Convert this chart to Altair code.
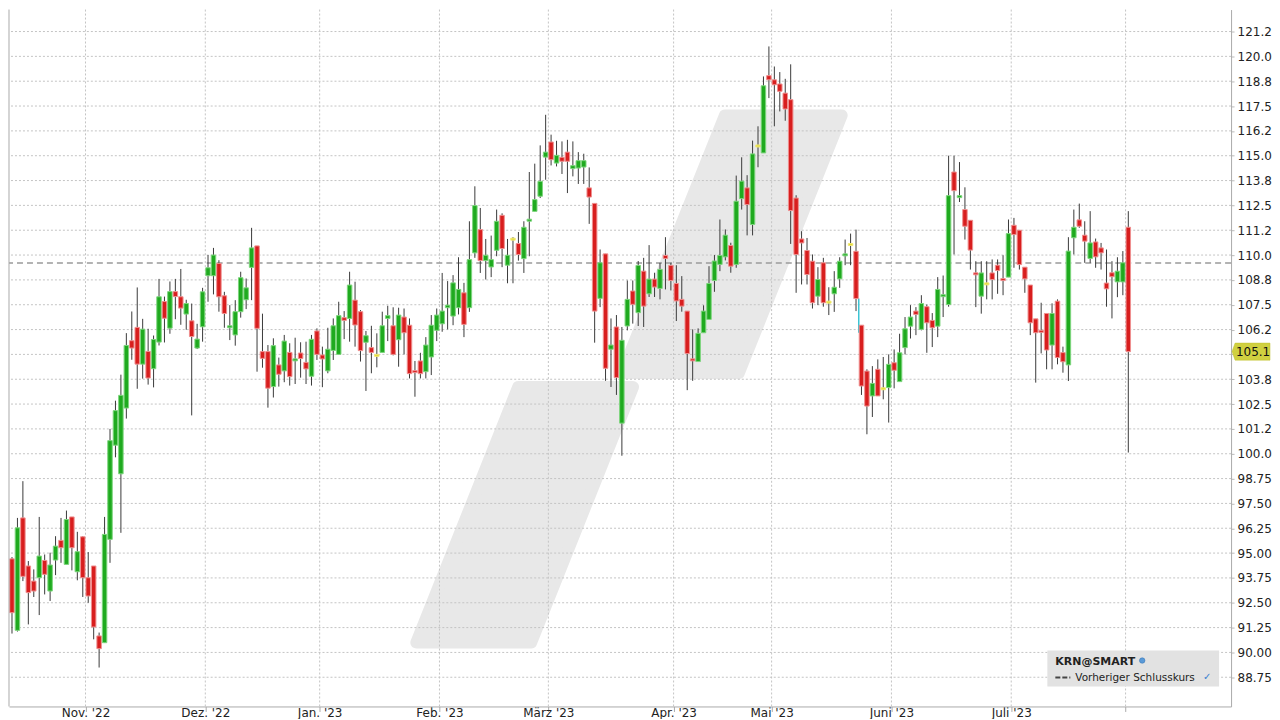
import json
import altair as alt
import pandas as pd

# ---------------- data ----------------
opens = [94.71, 91.11, 96.77, 94.35, 93.59, 93.76, 94.63, 93.09, 94.65, 95.64,
         94.43, 96.82, 94.06, 95.82, 93.76, 94.35, 90.83, 90.49, 95.69, 100.43,
         98.99, 102.30, 105.69, 106.36, 104.51, 105.15, 104.28, 105.62, 107.66, 106.32,
         108.16, 107.90, 107.03, 106.69, 105.32, 106.39, 108.96, 108.96, 109.58, 107.95,
         106.36, 105.98, 107.15, 107.75, 109.38, 110.46, 105.14, 105.14, 103.38, 104.47,
         104.17, 105.10, 104.70, 105.07, 104.60, 103.90, 106.18, 104.97, 104.17, 105.20,
         105.00, 106.85, 106.81, 107.73, 107.15, 105.61, 105.34, 104.95, 105.10, 106.81,
         106.44, 105.74, 106.88, 106.47, 104.16, 104.67, 104.13, 104.87, 106.21, 106.54,
         107.35, 106.93, 107.35, 108.10, 107.35, 110.11, 111.28, 109.72, 109.40, 110.24,
         112.00, 109.49, 110.80, 110.58, 109.82, 111.73, 112.20, 112.96, 114.93, 115.69,
         114.63, 114.92, 115.18, 114.35, 114.38, 114.43, 113.38, 112.60, 107.82, 110.06,
         105.26, 106.38, 101.54, 106.43, 108.19, 107.10, 109.19, 108.05, 108.79, 108.32,
         109.98, 109.48, 108.57, 107.77, 107.18, 104.75, 104.64, 106.09, 106.76, 108.72,
         109.53, 109.91, 110.48, 109.53, 112.84, 113.38, 111.54, 115.49, 115.14, 119.03,
         118.82, 118.61, 118.15, 117.82, 112.87, 110.81, 110.23, 109.69, 107.93, 109.61,
         107.63, 108.05, 108.80, 109.99, 110.53, 110.19, 106.47, 104.16, 102.91, 104.25,
         103.27, 103.33, 104.58, 103.63, 105.34, 106.42, 107.18, 106.26, 107.40, 106.71,
         106.42, 107.93, 107.51, 114.18, 112.92, 112.29, 111.75, 109.09, 107.93, 108.55,
         109.10, 109.49, 108.79, 108.89, 111.50, 111.25, 109.39, 108.49, 106.79, 106.21,
         107.06, 105.47, 107.68, 105.09, 104.47, 110.87, 111.77, 111.00, 109.83, 110.66,
         110.36, 108.59, 109.11, 108.65, 108.65, 111.40]
highs = [94.80, 96.77, 98.62, 94.60, 94.18, 96.82, 94.93, 95.02, 95.85, 96.77,
         97.14, 96.82, 96.07, 95.85, 95.05, 94.35, 91.00, 96.82, 101.25, 102.67,
         103.98, 106.07, 107.16, 108.37, 106.79, 106.29, 105.95, 108.80, 107.91, 108.67,
         108.80, 109.30, 107.75, 107.56, 106.54, 108.35, 110.00, 110.36, 109.74, 108.15,
         107.48, 107.73, 109.16, 108.82, 111.37, 110.46, 107.05, 105.47, 105.81, 104.84,
         105.98, 105.56, 105.84, 105.61, 105.64, 105.98, 106.31, 105.39, 106.34, 106.81,
         107.65, 107.18, 109.16, 108.66, 107.23, 106.18, 106.44, 106.06, 107.15, 107.45,
         107.37, 107.35, 107.31, 106.81, 104.67, 105.08, 105.87, 106.98, 107.31, 109.10,
         108.69, 108.99, 109.89, 108.60, 111.70, 113.46, 112.37, 110.81, 110.98, 112.29,
         112.10, 110.81, 110.90, 111.16, 111.70, 114.18, 114.60, 115.52, 117.06, 116.06,
         115.75, 115.72, 115.80, 115.72, 115.18, 115.10, 114.41, 112.60, 110.28, 110.06,
         106.81, 106.98, 106.38, 108.72, 108.72, 109.70, 109.86, 110.50, 109.11, 109.61,
         110.90, 109.61, 109.49, 108.94, 107.18, 106.26, 106.31, 107.47, 109.44, 110.00,
         111.79, 111.29, 110.62, 114.00, 114.92, 114.02, 115.76, 116.48, 118.99, 120.50,
         119.49, 119.21, 118.87, 119.60, 113.01, 111.20, 110.86, 110.03, 109.39, 109.86,
         108.38, 109.19, 109.89, 110.78, 111.08, 111.28, 106.47, 104.25, 104.41, 104.75,
         104.87, 105.00, 105.25, 106.04, 106.88, 107.48, 107.38, 107.98, 107.51, 107.08,
         108.89, 108.97, 115.00, 115.00, 114.68, 113.41, 111.75, 109.69, 109.69, 109.69,
         109.78, 109.78, 109.99, 111.79, 111.87, 111.25, 109.39, 108.49, 106.79, 107.60,
         107.06, 107.57, 107.77, 105.39, 110.90, 112.29, 112.59, 111.70, 112.21, 110.83,
         110.61, 110.28, 109.69, 109.89, 110.20, 112.21]
lows = [90.95, 91.05, 93.59, 91.41, 92.79, 91.88, 92.92, 92.59, 93.89, 94.51,
        94.43, 94.13, 93.63, 92.79, 92.50, 90.66, 89.24, 90.49, 94.51, 99.82,
        96.02, 101.77, 104.73, 103.27, 103.78, 103.48, 103.34, 105.45, 105.60, 106.04,
        106.77, 106.49, 106.24, 101.93, 105.27, 105.64, 107.65, 108.02, 107.15, 106.34,
        105.72, 105.44, 106.85, 107.28, 107.73, 104.13, 104.33, 102.32, 102.83, 103.38,
        103.60, 103.43, 103.51, 103.83, 103.51, 103.43, 104.72, 103.35, 104.05, 104.72,
        105.00, 105.77, 105.64, 105.39, 104.64, 103.16, 104.05, 104.35, 105.10, 105.67,
        104.95, 104.38, 105.00, 103.79, 102.87, 103.79, 103.79, 103.96, 105.67, 106.14,
        106.26, 106.47, 107.01, 105.87, 107.14, 109.86, 109.10, 108.77, 108.89, 109.94,
        109.39, 108.58, 108.58, 109.72, 109.10, 109.94, 112.20, 112.87, 113.79, 114.51,
        114.46, 114.08, 113.12, 113.96, 113.58, 113.58, 111.57, 105.59, 107.38, 103.67,
        103.36, 102.96, 99.90, 106.21, 106.55, 106.43, 106.38, 107.89, 107.89, 107.77,
        108.27, 108.22, 106.68, 107.15, 103.20, 103.67, 104.64, 106.09, 106.76, 108.15,
        109.19, 109.73, 109.11, 109.36, 112.29, 110.99, 110.99, 114.42, 115.14, 117.90,
        116.48, 117.23, 116.76, 110.56, 108.10, 108.52, 108.52, 107.31, 107.48, 107.40,
        106.98, 107.14, 108.35, 109.49, 109.49, 107.18, 102.96, 100.98, 101.85, 102.91,
        102.74, 101.57, 103.29, 103.63, 105.00, 105.80, 105.97, 106.21, 105.08, 105.37,
        105.87, 106.88, 107.40, 110.03, 112.67, 110.78, 109.27, 107.38, 107.05, 107.77,
        107.77, 108.05, 107.98, 108.89, 109.36, 109.27, 108.10, 105.97, 103.58, 105.05,
        104.25, 104.25, 104.50, 104.08, 103.66, 110.03, 111.37, 109.61, 109.61, 109.36,
        109.27, 107.40, 106.81, 107.88, 107.98, 100.06]
closes = [92.00, 96.27, 93.83, 93.01, 93.09, 94.85, 93.93, 94.40, 95.35, 95.27,
          96.69, 95.27, 95.07, 93.76, 92.84, 91.28, 90.19, 95.94, 100.66, 102.17,
          102.94, 105.45, 105.32, 104.51, 106.27, 103.81, 105.75, 107.90, 106.82, 108.16,
          107.91, 107.33, 107.56, 105.90, 105.77, 108.15, 109.36, 110.00, 107.90, 107.06,
          106.42, 107.15, 108.86, 108.35, 110.36, 106.31, 104.80, 103.30, 105.44, 104.00,
          105.67, 103.88, 104.75, 104.79, 104.27, 105.76, 105.00, 104.77, 105.26, 106.44,
          106.95, 106.71, 108.49, 106.48, 105.19, 105.94, 105.10, 104.95, 106.44, 106.95,
          105.00, 106.98, 106.09, 104.03, 104.11, 104.03, 105.47, 106.47, 106.98, 107.18,
          107.48, 108.60, 108.27, 106.51, 109.77, 112.49, 109.72, 109.99, 109.77, 111.70,
          110.33, 109.99, 110.80, 110.03, 111.40, 111.78, 112.79, 113.71, 115.18, 114.80,
          115.02, 114.72, 114.72, 114.50, 114.75, 114.75, 112.92, 107.18, 109.61, 104.30,
          105.47, 103.83, 105.71, 107.77, 107.52, 109.48, 107.43, 108.79, 108.39, 109.28,
          109.83, 108.72, 107.69, 107.43, 105.04, 104.70, 106.06, 107.18, 108.57, 109.70,
          109.98, 111.00, 109.44, 112.71, 113.72, 112.54, 115.09, 115.49, 118.52, 118.82,
          118.57, 118.24, 117.35, 112.24, 110.03, 110.61, 109.02, 107.60, 108.77, 107.60,
          107.63, 108.38, 109.69, 110.03, 110.53, 107.81, 103.41, 102.40, 103.54, 102.91,
          103.27, 104.50, 104.20, 105.08, 106.29, 106.88, 107.01, 107.56, 106.59, 106.34,
          108.27, 107.98, 112.99, 113.24, 112.96, 111.45, 110.25, 109.02, 109.10, 108.55,
          108.77, 109.22, 108.74, 111.08, 111.03, 109.52, 108.80, 106.59, 106.09, 106.11,
          105.22, 107.06, 104.84, 104.63, 110.20, 111.40, 111.45, 110.70, 110.61, 109.91,
          110.11, 108.30, 108.91, 109.19, 109.61, 105.14]

month_pos = [13.5, 35.5, 56.5, 78.5, 98.5, 121.5, 139.5, 161.5, 183.5, 204.5]
month_labels = ["Nov. '22", "Dez. '22", "Jan. '23", "Feb. '23", "März '23",
                "Apr. '23", "Mai '23", "Juni '23", "Juli '23", ""]
y_ticks = [88.75, 90.0, 91.25, 92.5, 93.75, 95.0, 96.25, 97.5, 98.75, 100.0,
           101.25, 102.5, 103.75, 105.0, 106.25, 107.5, 108.75, 110.0, 111.25,
           112.5, 113.75, 115.0, 116.25, 117.5, 118.75, 120.0, 121.25]
y_labels = ["88.75", "90.00", "91.25", "92.50", "93.75", "95.00", "96.25", "97.50",
            "98.75", "100.0", "101.2", "102.5", "103.8", "", "106.2", "107.5",
            "108.8", "110.0", "111.2", "112.5", "113.8", "115.0", "116.2", "117.5",
            "118.8", "120.0", "121.2"]
prev_close = 109.6
gap_at = 155.5            # cyan gap marker between two candles
gap_top, gap_bottom = 107.81, 106.09
symbol = "KRN@SMART"
legend_line = "Vorheriger Schlusskurs"

# ---------------- geometry helpers ----------------
W, H = 1224, 698
X0, XSTEP = 3.0, 5.454          # px of candle 0 from plot left, px per candle
Y_TOP_PRICE, PX_PER_UNIT = 122.356, 19.9
x_dom = [-X0 / XSTEP, (W - X0) / XSTEP]
y_dom = [Y_TOP_PRICE - H / PX_PER_UNIT, Y_TOP_PRICE]


def px_to_idx(px):
    return (px - 8 - X0) / XSTEP


def py_to_price(py):
    return Y_TOP_PRICE - (py - 8) / PX_PER_UNIT


FONT = "DejaVu Sans"

rows = []
for i, (o, h, l, c) in enumerate(zip(opens, highs, lows, closes)):
    kind = "up" if c > o else ("down" if c < o else "flat")
    top, bot = max(o, c), min(o, c)
    if top - bot < 0.1:
        mid = (top + bot) / 2
        top, bot = mid + 0.05, mid - 0.05
    rows.append(dict(idx=i, open=o, high=h, low=l, close=c, kind=kind,
                     btop=top, bbot=bot))
df = pd.DataFrame(rows)

# watermark (decorative logo) in screen pixels -> data space, inset for the
# rounded stroke that is drawn around it
wm_px = [("a", 114, 725, 842), ("a", 372, 622, 739),
         ("b", 386, 518, 633), ("b", 642, 416, 531)]
wm = pd.DataFrame([dict(shape=s, wy=py_to_price(y), wx=px_to_idx(xl),
                        wx2=px_to_idx(xr)) for s, y, xl, xr in wm_px])

xscale = alt.Scale(domain=x_dom, nice=False, zero=False, padding=0)
yscale = alt.Scale(domain=y_dom, nice=False, zero=False, padding=0)

x_label_expr = f"{json.dumps(month_labels, ensure_ascii=False)}[indexof({json.dumps(month_pos)}, datum.value)]"
y_label_expr = f"{json.dumps(y_labels)}[round((datum.value - {y_ticks[0]}) / 1.25)]"

x_axis = alt.Axis(values=month_pos, labelExpr=x_label_expr, grid=False, title=None,
                  domainColor="#aaaaaa", tickColor="#aaaaaa", tickSize=5,
                  labelFont=FONT, labelFontSize=12, labelColor="#222222",
                  labelPadding=-4, labelFlush=False, labelOverlap=False)
y_axis = alt.Axis(values=y_ticks, labelExpr=y_label_expr, grid=False, title=None,
                  orient="right", domainColor="#aaaaaa", tickColor="#bbbbbb",
                  tickSize=3, labelFont=FONT, labelFontSize=12,
                  labelColor="#222222", labelPadding=3, labelOverlap=False,
                  labelFlush=False)


def X(field):
    return alt.X(field, scale=xscale, axis=x_axis)


def Y(field):
    return alt.Y(field, scale=yscale, axis=y_axis)


# layers
watermark = alt.Chart(wm).mark_area(
    orient="horizontal", color="#e8e8e8", stroke="#e8e8e8", strokeWidth=12,
    strokeJoin="round").encode(
    y=Y("wy:Q"), x=X("wx:Q"), x2="wx2:Q", detail="shape:N")

hgrid = alt.Chart(pd.DataFrame({"v": y_ticks})).mark_rule(
    color="#c4c4c4", strokeDash=[2, 2], strokeWidth=1).encode(y=Y("v:Q"))
vgrid = alt.Chart(pd.DataFrame({"m": month_pos})).mark_rule(
    color="#c4c4c4", strokeDash=[2, 2], strokeWidth=1).encode(x=X("m:Q"))

prev = alt.Chart(pd.DataFrame({"p": [prev_close]})).mark_rule(
    color="#9a9a9a", strokeDash=[6, 4], strokeWidth=1.5).encode(y=Y("p:Q"))

gap = alt.Chart(pd.DataFrame({"g": [gap_at], "t": [gap_top], "b": [gap_bottom]})).mark_rule(
    color="#3cc4d4", strokeWidth=1.5).encode(x=X("g:Q"), y=Y("t:Q"), y2="b:Q")

wicks = alt.Chart(df).mark_rule(color="#3a3a3a", strokeWidth=1).encode(
    x=X("idx:Q"), y=Y("low:Q"), y2="high:Q")

bodies = alt.Chart(df).mark_bar(size=4.5, strokeWidth=1).encode(
    x=X("idx:Q"), y=Y("btop:Q"), y2="bbot:Q",
    fill=alt.Fill("kind:N", scale=alt.Scale(domain=["up", "down", "flat"],
                                            range=["#1faa1f", "#d81e1e", "#e4dc30"]),
                  legend=None),
    stroke=alt.Stroke("kind:N", scale=alt.Scale(domain=["up", "down", "flat"],
                                                range=["#7dd67d", "#ef9090", "#f0e878"]),
                      legend=None),
)

left_border = alt.Chart(pd.DataFrame({"a": [0]})).mark_rule(color="#aaaaaa").encode(
    x=alt.value(0), y=alt.value(0), y2=alt.value(H))

last = df.tail(1)
price_box = alt.Chart(last).mark_point(
    shape="M-1,0 L-0.84,-0.45 L1,-0.45 L1,0.45 L-0.84,0.45 Z",
    size=1444, filled=True, fill="#d0d040", stroke="#c0c030", strokeWidth=0.5,
    opacity=1).encode(x=alt.value(W + 20), y=Y("close:Q"))
price_text = alt.Chart(last).mark_text(
    font=FONT, fontSize=12, color="#111111", align="center", baseline="middle",
    dx=2).encode(x=alt.value(W + 20), y=Y("close:Q"),
                 text=alt.Text("close:Q", format=".1f"))

one = pd.DataFrame({"a": [0]})
leg_box = alt.Chart(one).mark_rect(color="#e2e2e2").encode(
    x=alt.value(1040), x2=alt.value(1212), y=alt.value(642), y2=alt.value(678))
leg_title = alt.Chart(one).mark_text(
    text=symbol, font=FONT, fontSize=11, fontWeight="bold", color="#222222",
    align="left", baseline="alphabetic").encode(x=alt.value(1048), y=alt.value(656))
leg_globe = alt.Chart(one).mark_point(
    shape="circle", size=30, filled=True, fill="#5a9ad8", stroke="#2f6fb0",
    strokeWidth=0.5, opacity=1).encode(x=alt.value(1135), y=alt.value(652))
leg_dash = alt.Chart(one).mark_rule(
    color="#444444", strokeWidth=2, strokeDash=[5, 2]).encode(
    x=alt.value(1048), x2=alt.value(1063), y=alt.value(669))
leg_text = alt.Chart(one).mark_text(
    text=legend_line, font=FONT, fontSize=10.5, color="#222222",
    align="left", baseline="alphabetic").encode(x=alt.value(1068), y=alt.value(673))
leg_check = alt.Chart(one).mark_text(
    text="✓", font=FONT, fontSize=10, fontWeight="bold", color="#3a7fd0",
    align="center", baseline="middle").encode(x=alt.value(1200), y=alt.value(669))

chart = alt.layer(
    watermark, hgrid, vgrid, prev, gap, wicks, bodies, left_border,
    price_box, price_text, leg_box, leg_title, leg_globe, leg_dash, leg_text, leg_check,
).properties(width=W, height=H, padding=0, background="white").configure_view(stroke=None)

chart.save("out.html", embed_options={"renderer": "svg", "actions": False})
